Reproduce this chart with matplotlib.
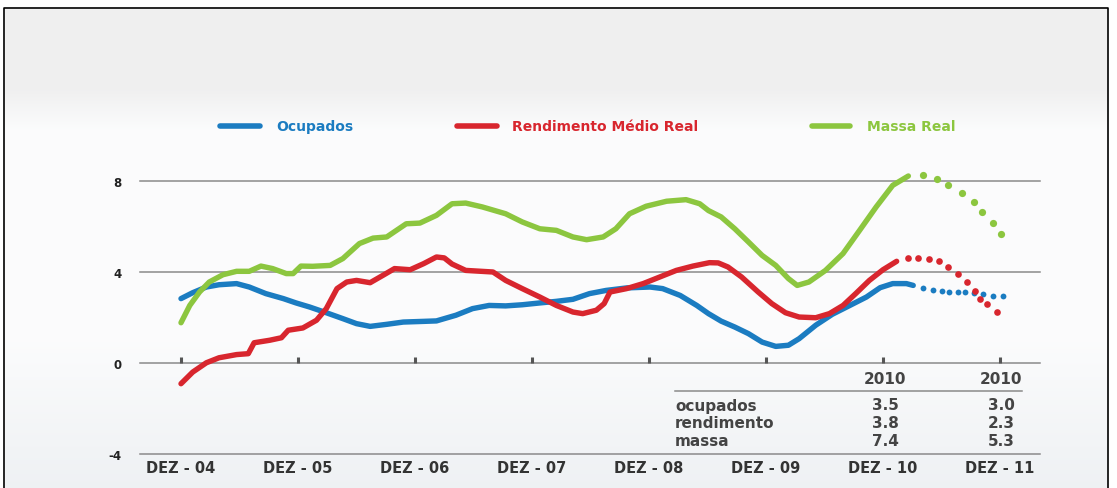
import matplotlib
matplotlib.use("Agg")
import matplotlib.pyplot as plt
import numpy as np
from matplotlib.lines import Line2D
from matplotlib.patches import Rectangle

W, H = 1117, 489

# ---- data (x = months since Dec-2004) ----
ocup_t = [0, 1.2, 2.6, 3.9, 5.7, 7.0, 8.7, 10.5, 11.8, 13.2, 14.9, 16.6, 18.0, 19.4, 21.1,
          22.8, 24.9, 26.2, 28.2, 29.9, 31.6, 33.3, 35.0, 36.8, 38.5, 40.2, 41.9, 43.6,
          45.7, 48.1, 49.4, 51.2, 52.9, 54.1, 55.4, 56.8, 58.2, 59.6, 61.0, 62.3, 63.4,
          65.1, 66.8, 68.6, 70.3, 71.7, 73.0, 74.4, 75.1]
ocup_v = [2.83, 3.09, 3.34, 3.44, 3.49, 3.34, 3.05, 2.83, 2.64, 2.46, 2.21, 1.95, 1.73, 1.61,
          1.7, 1.8, 1.83, 1.85, 2.1, 2.39, 2.53, 2.51, 2.56, 2.64, 2.71, 2.8, 3.05, 3.19,
          3.3, 3.34, 3.27, 2.97, 2.53, 2.17, 1.84, 1.58, 1.29, 0.92, 0.73, 0.78, 1.07,
          1.66, 2.14, 2.53, 2.9, 3.31, 3.49, 3.49, 3.41]
ocup_proj_t = [76.1, 77.1, 78.0, 78.8, 79.7, 80.4, 81.3, 82.3, 83.3, 84.3]
ocup_proj_v = [3.31, 3.22, 3.16, 3.12, 3.1, 3.1, 3.08, 3.02, 2.96, 2.95]

rend_t = [0, 1.2, 2.6, 3.9, 5.7, 6.9, 7.5, 9.1, 10.3, 11.0, 12.5, 13.9, 14.9, 16.0, 17.0,
          18.0, 19.4, 20.7, 21.9, 23.5, 24.9, 26.2, 27.0, 27.8, 29.2, 32.0, 33.3, 35.0,
          36.8, 38.5, 40.2, 41.2, 42.6, 43.4, 44.0, 45.7, 47.4, 49.1, 50.8, 52.5, 54.2,
          55.1, 56.1, 57.5, 59.2, 60.6, 62.0, 63.4, 65.1, 66.5, 67.9, 69.2, 70.6, 72.0, 73.4]
rend_v = [-0.91, -0.4, 0.01, 0.23, 0.37, 0.41, 0.89, 1.0, 1.11, 1.44, 1.54, 1.88, 2.39, 3.27,
          3.56, 3.63, 3.53, 3.85, 4.15, 4.1, 4.37, 4.66, 4.62, 4.35, 4.07, 4.0, 3.63, 3.27,
          2.9, 2.53, 2.24, 2.17, 2.32, 2.61, 3.12, 3.27, 3.49, 3.78, 4.07, 4.26, 4.41,
          4.4, 4.22, 3.78, 3.12, 2.61, 2.21, 2.02, 1.99, 2.17, 2.53, 3.05, 3.63, 4.1, 4.47]
rend_proj_t = [74.6, 75.6, 76.7, 77.7, 78.7, 79.7, 80.6, 81.4, 81.9, 82.7, 83.7]
rend_proj_v = [4.62, 4.62, 4.59, 4.48, 4.22, 3.9, 3.56, 3.16, 2.83, 2.61, 2.24]

massa_t = [0, 0.9, 1.9, 2.9, 4.3, 5.7, 7.0, 8.2, 9.4, 10.8, 11.5, 12.3, 13.5, 15.3, 16.6,
           18.3, 19.7, 21.1, 23.1, 24.5, 26.2, 27.8, 29.2, 30.9, 33.3, 35.0, 36.8, 38.5,
           40.2, 41.6, 43.3, 44.6, 46.0, 47.7, 49.8, 51.8, 53.2, 54.1, 55.4, 56.8, 58.2,
           59.6, 61.0, 62.3, 63.2, 64.4, 66.1, 67.9, 69.6, 71.3, 73.0, 74.6]
massa_v = [1.77, 2.53, 3.12, 3.56, 3.88, 4.03, 4.03, 4.26, 4.15, 3.93, 3.93, 4.26, 4.25, 4.29,
           4.59, 5.25, 5.49, 5.54, 6.12, 6.15, 6.49, 7.0, 7.03, 6.86, 6.56, 6.2, 5.9, 5.83,
           5.54, 5.42, 5.54, 5.9, 6.56, 6.89, 7.11, 7.18, 7.0, 6.7, 6.42, 5.9, 5.32,
           4.73, 4.29, 3.71, 3.41, 3.56, 4.07, 4.81, 5.83, 6.86, 7.81, 8.22]
massa_proj_t = [76.1, 77.5, 78.7, 80.1, 81.3, 82.2, 83.3, 84.1]
massa_proj_v = [8.25, 8.1, 7.84, 7.47, 7.08, 6.64, 6.15, 5.68]

tick_pos = [0, 12, 24, 36, 48, 60, 72, 84]
tick_labels = ["DEZ - 04", "DEZ - 05", "DEZ - 06", "DEZ - 07",
               "DEZ - 08", "DEZ - 09", "DEZ - 10", "DEZ - 11"]
y_ticks = [-4, 0, 4, 8]

table_rows = ["ocupados", "rendimento", "massa"]
table_headers = ["2010", "2010"]
table_col1 = ["3.5", "3.8", "7.4"]
table_col2 = ["3.0", "2.3", "5.3"]

series_names = ["Ocupados", "Rendimento Médio Real", "Massa Real"]
BLUE, RED, GREEN = "#1b7cc1", "#d8262e", "#8cc63f"

plt.rcParams['font.family'] = ['DejaVu Sans']

fig = plt.figure(figsize=(W / 100, H / 100), dpi=100)
fig.patch.set_facecolor("white")

def fx(px):
    return px / W

def fy(py):
    return 1 - py / H

# background gradient
bg = fig.add_axes([0, 0, 1, 1], zorder=-10)
bg.set_axis_off()
def lerp(a, b, f):
    return np.array(a) + (np.array(b) - np.array(a)) * f
cols = []
for r in range(H):
    if r < 90:
        c = (0.94, 0.94, 0.94)
    elif r < 130:
        c = lerp((0.94, 0.94, 0.94), (0.985, 0.987, 0.99), (r - 90) / 40)
    elif r < 340:
        c = (0.985, 0.987, 0.99)
    else:
        c = lerp((0.985, 0.987, 0.99), (0.935, 0.945, 0.955), (r - 340) / 149)
    cols.append(c)
img = np.array(cols)[:, None, :].repeat(4, axis=1)
bg.imshow(img, aspect='auto', extent=[0, 1, 0, 1], transform=bg.transAxes,
          interpolation="nearest")
bg.set_xlim(0, 1); bg.set_ylim(0, 1)
bg.add_patch(Rectangle((0, 0), fx(4), 1, transform=fig.transFigure, color="white"))
bg.add_patch(Rectangle((fx(1108), 0), 1, 1, transform=fig.transFigure, color="white"))
bg.add_patch(Rectangle((0, fy(9)), 1, 1, transform=fig.transFigure, color="white"))
fig.add_artist(Line2D([fx(4), fx(4), fx(1108), fx(1108)], [0, fy(9), fy(9), 0],
                      transform=fig.transFigure, color="black", lw=1.2))

# main axes
left_px, right_px, top_px, bot_px = 140, 1040, 160, 455
ax = fig.add_axes([fx(left_px), fy(bot_px), (right_px - left_px) / W, (bot_px - top_px) / H])
ax.patch.set_alpha(0)
ppm = 9.75
ax.set_xlim((left_px - 181) / ppm, (right_px - 181) / ppm)
ppu = 22.75
ax.set_ylim(-4, -4 + (bot_px - top_px) / ppu)
for s in ax.spines.values():
    s.set_visible(False)

for yv in y_ticks:
    ax.axhline(yv, color="#8a8a8a", lw=1.1, zorder=1, clip_on=False)
ax.vlines(tick_pos, 0, 0.28, colors="#555555", lw=2.2, zorder=2)

ax.set_yticks(y_ticks)
ax.set_yticklabels([str(v) for v in y_ticks], fontsize=8.5, fontweight="bold", color="#222222")
ax.set_xticks(tick_pos)
ax.set_xticklabels(tick_labels, fontsize=10.5, fontweight="bold", color="#333333")
ax.tick_params(axis='y', length=0, pad=13)
ax.tick_params(axis='x', length=0, pad=4)

lw = 3.9
kw = dict(lw=lw, solid_capstyle="round", solid_joinstyle="round")
ax.plot(ocup_t, ocup_v, color=BLUE, zorder=3, **kw)
ax.plot(rend_t, rend_v, color=RED, zorder=4, **kw)
ax.plot(massa_t, massa_v, color=GREEN, zorder=5, **kw)
ax.plot(ocup_proj_t, ocup_proj_v, ls="none", marker="o", ms=4.2, mew=0, color=BLUE, zorder=3)
ax.plot(rend_proj_t, rend_proj_v, ls="none", marker="o", ms=4.8, mew=0, color=RED, zorder=4)
ax.plot(massa_proj_t, massa_proj_v, ls="none", marker="o", ms=5.2, mew=0, color=GREEN, zorder=5)

# legend
leg = [(220, 260, 276, BLUE, series_names[0]),
       (457, 497, 512, RED, series_names[1]),
       (812, 850, 867, GREEN, series_names[2])]
for x0, x1, xt, c, name in leg:
    fig.add_artist(Line2D([fx(x0), fx(x1)], [fy(127), fy(127)], transform=fig.transFigure,
                          color=c, lw=4.0, solid_capstyle="round"))
    fig.text(fx(xt), fy(127), name, color=c, fontsize=10, fontweight="bold",
             ha="left", va="center")

# table
tc = "#444444"
c1, c2 = 885, 1001
fs = 11
for cx, hdr in zip([c1, c2], table_headers):
    fig.text(fx(cx), fy(380), hdr, ha="center", va="center", fontsize=fs,
             fontweight="bold", color=tc)
fig.add_artist(Line2D([fx(675), fx(1022)], [fy(392), fy(392)], transform=fig.transFigure,
                      color="#8a8a8a", lw=1.1))
row_y = [406, 424, 442]
for lab, v1, v2, yy in zip(table_rows, table_col1, table_col2, row_y):
    fig.text(fx(675), fy(yy), lab, ha="left", va="center", fontsize=fs, fontweight="bold", color=tc)
    fig.text(fx(c1), fy(yy), v1, ha="center", va="center", fontsize=fs, fontweight="bold", color=tc)
    fig.text(fx(c2), fy(yy), v2, ha="center", va="center", fontsize=fs, fontweight="bold", color=tc)

fig.savefig("out.png", dpi=100)
